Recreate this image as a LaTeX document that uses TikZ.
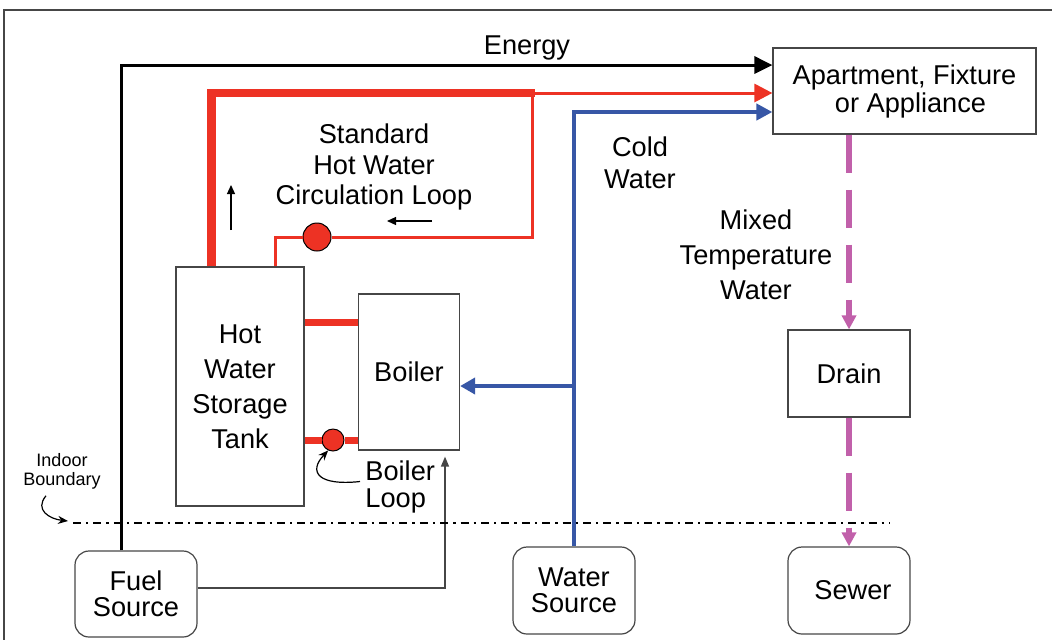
\documentclass[tikz,border=0pt]{standalone}
\usepackage{fontspec}
\setmainfont{Liberation Sans}
\usetikzlibrary{arrows.meta,calc,positioning}
\definecolor{hotred}{RGB}{237,50,36}
\definecolor{coldblue}{RGB}{55,87,166}
\definecolor{mixpink}{RGB}{193,96,170}
\definecolor{edgegray}{RGB}{70,70,70}
\begin{document}
\begin{tikzpicture}[x=0.5pt, y=-0.5pt,
    every node/.style={font=\fontsize{13.6}{15}\selectfont, align=center, inner sep=0pt},
    box/.style={draw=edgegray, line width=0.6pt},
    src/.style={box, rounded corners=7pt},
    pump/.style={circle, draw=black, fill=hotred, line width=0.5pt},
    hotpipe/.style={hotred, line width=4.25pt},
    hotline/.style={hotred, line width=1.5pt},
    coldline/.style={coldblue, line width=2pt},
    energyline/.style={black, line width=1.5pt},
    fuelline/.style={edgegray, line width=0.7pt},
    mixline/.style={mixpink, line width=2.75pt, dash pattern=on 19pt off 8.5pt},
    boundary/.style={black, line width=1pt, dash pattern=on 4pt off 2.5pt on 1.2pt off 2.5pt},
    note/.style={black, line width=0.6pt, -{Stealth[length=5pt,width=4pt]}},
    flow/.style={black, line width=0.6pt, -{Triangle[length=4.5pt,width=4pt]}}]
    \useasboundingbox (0,0) rectangle (1052,639);
    % frame
    \draw[edgegray, line width=0.6pt] (4,660) -- (4,10) -- (1070,10);

    % boxes
    \node[box, minimum width=131.5pt, minimum height=43pt, font=\fontsize{13.6}{14}\selectfont] (apt) at (904.5,91) {Apartment, Fixture\\ \hspace*{6pt}or Appliance};
    \node[box, minimum width=64pt, minimum height=119.5pt, font=\fontsize{13.6}{17.5}\selectfont] (tank) at (240,386.5) {Hot\\Water\\Storage\\Tank};
    \node[box, minimum width=50.5pt, minimum height=78pt] (boiler) at (409,372) {Boiler};
    \node[box, minimum width=61pt, minimum height=43.5pt] (drain) at (849,373.5) {Drain};
    \node[src, minimum width=61pt, minimum height=43pt, font=\fontsize{13.6}{13}\selectfont] (fuel) at (136,594) {Fuel\\Source};
    \node[src, minimum width=61pt, minimum height=43.5pt, font=\fontsize{13.6}{13}\selectfont] (water) at (574,590.5) {Water\\Source};
    \node[src, minimum width=61pt, minimum height=43.5pt] (sewer) at (849,590.5) {\hspace*{4pt}Sewer};

    % labels
    \node (energy) at (527,48) {Energy};
    \node[font=\fontsize{13.6}{15.25}\selectfont] (looplbl) at (374,167) {Standard\\Hot Water\\Circulation Loop};
    \node[font=\fontsize{13.6}{16}\selectfont] (coldlbl) at (640,163) {Cold\\Water};
    \node[font=\fontsize{13.6}{17.5}\selectfont] (mixlbl) at (756,255) {Mixed\\Temperature\\Water};
    \node[anchor=west, align=left, font=\fontsize{13.6}{13.5}\selectfont] (bloop) at (365,486.5) {Boiler\\Loop};
    \node[font=\fontsize{9}{9.5}\selectfont] (indoor) at (62,471.5) {Indoor\\Boundary};

    % pumps
    \node[pump, minimum size=14pt] (circpump) at (317,237) {};
    \node[pump, minimum size=11pt] (boilpump) at (333,440) {};

    % energy
    \draw[energyline, -{Triangle[length=9pt,width=8.5pt]}] ($(fuel.north)+(-15,0)$) |- ($(apt.west)+(0,-26)$);

    % hot water
    \coordinate (hotT) at (532,93);
    \draw[hotpipe] ($(tank.north west)+(36,0)$) |- ($(hotT)+(3,0)$);
    \draw[hotline, -{Triangle[length=9pt,width=9pt]}] (hotT) -- (hotT -| apt.west);
    \draw[hotline] (hotT) |- (circpump.east);
    \draw[hotline] (circpump.west) -| ($(tank.north west)+(100,0)$);
    \path (boiler.west) ++(0,-50) coordinate (bup);
    \draw[hotred, line width=3.5pt] (bup -| tank.east) -- (bup);
    \draw[hotred, line width=3.5pt] (tank.east |- boilpump) -- (boilpump.west);
    \draw[hotred, line width=3.5pt] (boilpump.east) -- (boilpump -| boiler.west);
    \draw[flow] (231,230) -- (231,185);
    \draw[flow] (432,221) -- (387,221);

    % cold water
    \draw[coldline, -{Triangle[length=8pt,width=8pt]}] (water.north) |- ($(apt.west)+(0,21)$);
    \coordinate (bin) at ($(boiler.east)+(0,14)$);
    \draw[coldline, -{Triangle[length=7.5pt,width=8pt]}] (bin -| water.north) -- (bin);

    % fuel to boiler
    \draw[fuelline, -{Triangle[length=5pt,width=4pt]}] ($(fuel.east)+(0,-6)$) -| ($(boiler.south)+(36,6)$);

    % drain
    \draw[mixline, -{Triangle[length=7pt,width=7pt]}] (apt.south -| drain.north) -- (drain.north);
    \draw[mixline, -{Triangle[length=7pt,width=7pt]}] (drain.south) -- (sewer.north);

    % indoor boundary
    \coordinate (bndL) at (73,523);
    \coordinate (bndR) at (890,523);
    \draw[boundary] (bndL) -- (bndR);
    \draw[note] ($(indoor.south)+(-16,6)$) .. controls (34,510) and (50,519) .. ($(bndL)+(-5,-2)$);
    \draw[note] ($(bloop.west)+(-5,-5)$) .. controls (318,486) and (308,472) .. (boilpump.245);
\end{tikzpicture}
\end{document}
